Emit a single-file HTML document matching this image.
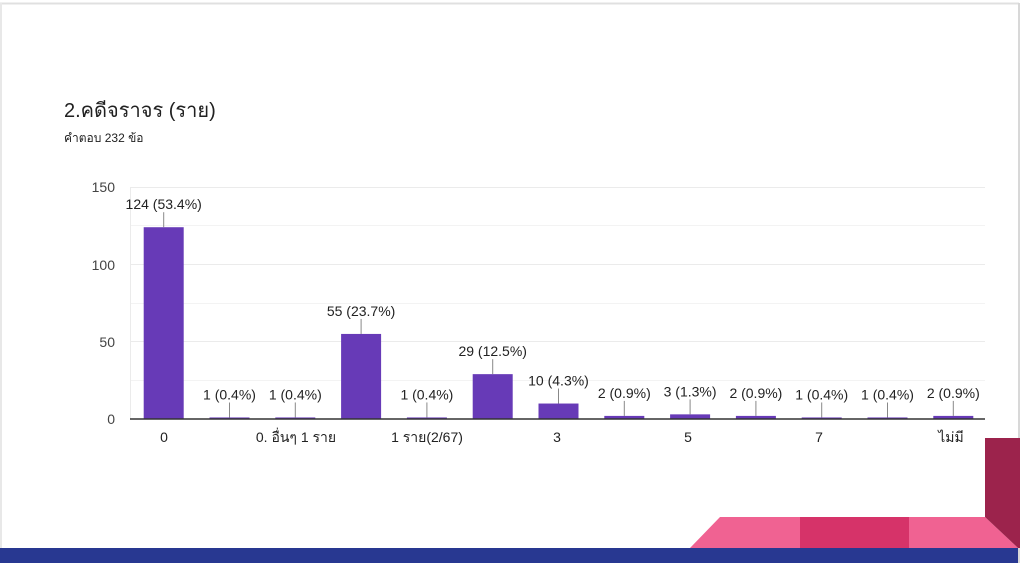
<!DOCTYPE html>
<html><head><meta charset="utf-8"><style>
body{margin:0;width:1024px;height:563px;overflow:hidden;background:#fff;font-family:"Liberation Sans","Noto Sans CJK SC",sans-serif;position:relative}
</style></head><body>
<svg width="1024" height="563" style="position:absolute;left:0;top:0" font-family="Liberation Sans, Noto Sans CJK SC, sans-serif">
<rect x="0" y="0" width="1024" height="563" fill="#fff"/>
<line x1="0" y1="3.5" x2="1019" y2="3.5" stroke="#e0e0e0" stroke-width="2"/>
<line x1="1019" y1="3" x2="1019" y2="563" stroke="#d8d8d8" stroke-width="2"/>
<line x1="1" y1="3" x2="1" y2="563" stroke="#e8e8e8" stroke-width="2"/>
<text x="64" y="117" font-size="20" fill="#212121">2.คดีจราจร (ราย)</text>
<text x="64" y="142" font-size="12" fill="#212121">คำตอบ 232 ข้อ</text>
<g stroke="#ebebeb" stroke-width="1">
<line x1="130" x2="985" y1="187.5" y2="187.5"/><line x1="130" x2="985" y1="225.5" y2="225.5" stroke="#f3f3f3"/>
<line x1="130" x2="985" y1="264.5" y2="264.5"/><line x1="130" x2="985" y1="303.5" y2="303.5" stroke="#f3f3f3"/>
<line x1="130" x2="985" y1="341.5" y2="341.5"/><line x1="130" x2="985" y1="380.5" y2="380.5" stroke="#f3f3f3"/>
<line x1="130.5" x2="130.5" y1="187" y2="419"/>
</g>
<g font-size="14" fill="#444" text-anchor="end">
<text x="115" y="192">150</text><text x="115" y="270">100</text><text x="115" y="347">50</text><text x="115" y="424">0</text>
</g>
<g id="bars"></g>
<line x1="130" x2="985" y1="419" y2="419" stroke="#333" stroke-width="1.5"/>
<g font-size="14" fill="#222" text-anchor="middle">
<text x="164" y="442">0</text><text x="296" y="442">0. อื่นๆ 1 ราย</text><text x="427" y="442">1 ราย(2/67)</text>
<text x="557" y="442">3</text><text x="688" y="442">5</text><text x="819" y="442">7</text><text x="951" y="442">ไม่มี</text>
</g>
<polygon points="690,548 720,517 985,517 1018,548" fill="#f06292"/>
<rect x="800" y="517" width="109" height="31" fill="#d63369"/>
<polygon points="985,438 1020,438 1020,548 1018,548 985,517" fill="#9c234c"/>
<rect x="0" y="548" width="1018" height="15" fill="#283891"/>
</svg>
<script>
var v=[124,1,1,55,1,29,10,2,3,2,1,1,2],l=["124 (53.4%)","1 (0.4%)","1 (0.4%)","55 (23.7%)","1 (0.4%)","29 (12.5%)","10 (4.3%)","2 (0.9%)","3 (1.3%)","2 (0.9%)","1 (0.4%)","1 (0.4%)","2 (0.9%)"];
var g=document.getElementById('bars'),s='';
for(var i=0;i<13;i++){var c=163.7+65.8*i,h=v[i]*232/150,t=419-h;
s+='<rect x="'+(c-20)+'" y="'+t+'" width="40" height="'+h+'" fill="#673ab7"/>';
s+='<line x1="'+c+'" x2="'+c+'" y1="'+t+'" y2="'+(t-15)+'" stroke="#888"/>';
s+='<text x="'+c+'" y="'+(t-18)+'" font-size="14" fill="#222" text-anchor="middle">'+l[i]+'</text>';}
g.innerHTML=s;
</script>
</body></html>
